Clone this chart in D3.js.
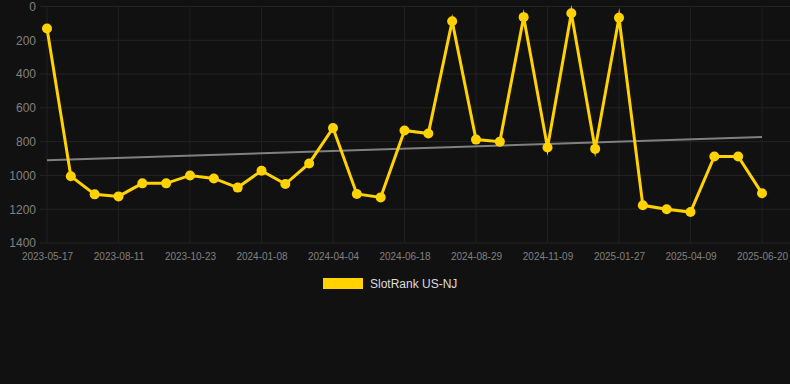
<!DOCTYPE html>
<html>
<head>
<meta charset="utf-8">
<script src="https://cdn.jsdelivr.net/npm/d3@7"></script>
<style>
  html, body { margin: 0; padding: 0; background: #111111; }
  svg { display: block; font-family: "Liberation Sans", Arial, sans-serif; }
</style>
</head>
<body>
<svg id="chart" width="790" height="384"></svg>
<script>
// rank values, one point per period (rank 1 = top)
const rankValues = [130, 1005, 1112, 1124, 1047, 1047, 1000, 1018, 1072, 972,
  1051, 929, 719, 1110, 1130, 734, 752, 87, 788, 800,
  63, 835, 40, 843, 67, 1177, 1200, 1217, 888, 888, 1106];

// x labels, shown on every 3rd point
const tickLabels = ['2023-05-17', '2023-08-11', '2023-10-23', '2024-01-08', '2024-04-04',
  '2024-06-18', '2024-08-29', '2024-11-09', '2025-01-27', '2025-04-09', '2025-06-20'];

const yTicks = [0, 200, 400, 600, 800, 1000, 1200, 1400];

// trend line end values
const trendValues = [910, 772];

const seriesName = 'SlotRank US-NJ';

const svg = d3.select('#chart');
const area = { left: 40, right: 790, top: 6.5, bottom: 243, x0: 47, x1: 762 };

const idx = d3.range(rankValues.length);
const scX = d3.scalePoint().domain(idx).range([area.x0, area.x1]);
const scY = d3.scaleLinear().domain([0, 1400]).range([area.top, area.bottom]);

// grid
const grid = svg.append('g');
grid.selectAll('.hgrid')
  .data(yTicks)
  .enter()
  .append('line')
  .attr('x1', area.left)
  .attr('x2', area.right)
  .attr('y1', d => scY(d))
  .attr('y2', d => scY(d))
  .style('stroke', '#242424')
  .style('stroke-width', 1);

const tickIdx = idx.filter(i => i % 3 === 0);
grid.selectAll('.vgrid')
  .data(tickIdx)
  .enter()
  .append('line')
  .attr('x1', d => scX(d))
  .attr('x2', d => scX(d))
  .attr('y1', area.top)
  .attr('y2', area.bottom)
  .style('stroke', '#202020')
  .style('stroke-width', 1);

// y axis
const axisY = svg.append('g')
  .attr('transform', `translate(${area.left - 4}, 0)`)
  .call(d3.axisLeft(scY).tickValues(yTicks).tickFormat(d3.format('d')).tickSize(0).tickPadding(0));
axisY.select('.domain').remove();
axisY.selectAll('text')
  .style('fill', '#808080')
  .style('font-size', '12px')
  .style('font-family', '"Liberation Sans", Arial, sans-serif');

// x axis
const axisX = svg.append('g')
  .attr('transform', `translate(0, ${area.bottom + 10})`)
  .call(d3.axisBottom(scX).tickValues(tickIdx).tickFormat(i => tickLabels[i / 3]).tickSize(0).tickPadding(0));
axisX.select('.domain').remove();
axisX.selectAll('text')
  .style('fill', '#808080')
  .style('font-size', '10px')
  .style('font-family', '"Liberation Sans", Arial, sans-serif');

// trend line
svg.append('line')
  .attr('x1', scX(0))
  .attr('x2', scX(idx.length - 1))
  .attr('y1', scY(trendValues[0]))
  .attr('y2', scY(trendValues[1]))
  .style('stroke', '#808080')
  .style('stroke-width', 2);

// series line
const lineGen = d3.line()
  .x((d, i) => scX(i))
  .y(d => scY(d));

svg.append('path')
  .datum(rankValues)
  .attr('d', lineGen)
  .style('fill', 'none')
  .style('stroke', '#ffd200')
  .style('stroke-width', 3)
  .style('stroke-linejoin', 'miter')
  .style('stroke-miterlimit', 10);

svg.selectAll('.dot')
  .data(rankValues)
  .enter()
  .append('circle')
  .attr('class', 'dot')
  .attr('cx', (d, i) => scX(i))
  .attr('cy', d => scY(d))
  .attr('r', 5)
  .style('fill', '#ffd200');

// legend
const legend = svg.append('g').attr('transform', 'translate(323, 278)');
legend.append('rect')
  .attr('width', 40)
  .attr('height', 11)
  .style('fill', '#ffd200');
legend.append('text')
  .attr('x', 47)
  .attr('y', 5.5)
  .attr('dy', '0.35em')
  .text(seriesName)
  .style('fill', '#dddddd')
  .style('font-size', '12px');
</script>
</body>
</html>
